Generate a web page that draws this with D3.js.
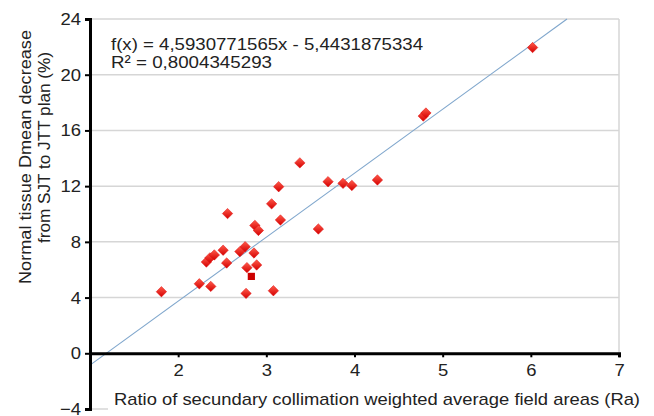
<!DOCTYPE html>
<html>
<head>
<meta charset="utf-8">
<script src="https://cdn.jsdelivr.net/npm/d3@7"></script>
<style>
html,body{margin:0;padding:0;background:#fff;}
svg{display:block;font-family:"Liberation Sans",Arial,sans-serif;}
</style>
</head>
<body>
<svg id="chart" width="654" height="416"></svg>
<script>
// ---- data ----
const ratioRa = [1.81, 2.24, 2.37, 2.32, 2.36, 2.41, 2.51, 2.55, 2.56, 2.70, 2.76, 2.86, 2.78, 2.89, 2.77, 3.08, 3.06, 3.16, 2.87, 2.91, 3.59, 3.14, 3.38, 3.70, 3.87, 3.97, 4.26, 4.78, 4.81, 6.02];
const dmeanDecrease = [4.42, 4.99, 4.80, 6.55, 6.85, 7.06, 7.40, 6.48, 10.03, 7.30, 7.65, 7.20, 6.15, 6.34, 4.30, 4.49, 10.73, 9.57, 9.18, 8.82, 8.92, 11.96, 13.67, 12.32, 12.20, 12.05, 12.44, 17.03, 17.25, 21.95];
const squareRa = [2.83];
const squareDecrease = [5.52];
const fitSlope = 4.5930771565;
const fitIntercept = -5.4431875334;
const xTicks = [2, 3, 4, 5, 6, 7];
const yTicks = [-4, 0, 4, 8, 12, 16, 20, 24];
const eqLabel = "f(x) = 4,5930771565x - 5,4431875334";
const r2Label = "R² = 0,8004345293";
const xTitle = "Ratio of secundary collimation weighted average field areas (Ra)";
const yTitleLines = ["Normal tissue Dmean decrease", "from SJT to JTT plan (%)"];

// ---- layout ----
const svg = d3.select("#chart");
const x = d3.scaleLinear().domain([1, 7]).range([90, 619]);
const y = d3.scaleLinear().domain([-4, 24]).range([409, 19]);
const FS = 17;
const stretch = 1.085;

function widen(sel) {
  sel.each(function() {
    const len = this.getComputedTextLength();
    d3.select(this).attr("textLength", len * stretch).attr("lengthAdjust", "spacingAndGlyphs");
  });
}
function fitTo(sel, w) {
  sel.attr("textLength", w).attr("lengthAdjust", "spacingAndGlyphs");
}

const defs = svg.append("defs");
const grad = defs.append("linearGradient").attr("id", "dg")
  .attr("x1", "0%").attr("y1", "0%").attr("x2", "100%").attr("y2", "100%");
grad.append("stop").attr("offset", "0%").attr("stop-color", "#ff5a4a");
grad.append("stop").attr("offset", "100%").attr("stop-color", "#d40000");

// gridlines
svg.append("g").selectAll("line").data(yTicks.filter(v => v > 0)).join("line")
  .attr("x1", x(1)).attr("x2", x(7))
  .attr("y1", d => y(d)).attr("y2", d => y(d))
  .attr("stroke", "#d6d6d6").attr("stroke-width", 1.5);
svg.append("line").attr("x1", x(1)).attr("x2", x(7)).attr("y1", y(-4)).attr("y2", y(-4))
  .attr("stroke", "#d6d6d6").attr("stroke-width", 1.5);
svg.append("line").attr("x1", x(7)).attr("x2", x(7)).attr("y1", y(24)).attr("y2", y(0))
  .attr("stroke", "#d6d6d6").attr("stroke-width", 1.5);

// trend line
const xEnd = (24 - fitIntercept) / fitSlope;
svg.append("line")
  .attr("x1", x(1)).attr("y1", y(fitSlope * 1 + fitIntercept))
  .attr("x2", x(xEnd)).attr("y2", y(24))
  .attr("stroke", "#7fa6cc").attr("stroke-width", 1.1);

// white box behind x-title
svg.append("rect").attr("x", 108).attr("y", 384).attr("width", 546).attr("height", 32).attr("fill", "#fff");

// axes
const yAxis = d3.axisLeft(y).tickValues(yTicks).tickSize(5).tickPadding(4).tickFormat(d3.format("d"));
const gy = svg.append("g").attr("transform", `translate(${x(1)},0)`).call(yAxis);
gy.select(".domain").attr("stroke", "#000").attr("stroke-width", 3);
gy.selectAll(".tick line").attr("stroke", "#000").attr("stroke-width", 2);
gy.selectAll(".tick text").attr("font-size", FS).attr("fill", "#222").attr("font-family", "Liberation Sans, Arial, sans-serif").call(widen);

const xAxis = d3.axisBottom(x).tickValues(xTicks).tickSize(4).tickPadding(7).tickFormat(d3.format("d"));
const gx = svg.append("g").attr("transform", `translate(0,${y(0)})`).call(xAxis);
gx.select(".domain").attr("stroke", "#000").attr("stroke-width", 3);
gx.selectAll(".tick line").attr("stroke", "#000").attr("stroke-width", 2);
gx.selectAll(".tick text").attr("font-size", FS).attr("fill", "#222").attr("font-family", "Liberation Sans, Arial, sans-serif").call(widen);

// points
const pts = ratioRa.map((v, i) => ({x: v, y: dmeanDecrease[i]}));
svg.append("g").selectAll("path").data(pts).join("path")
  .attr("d", d3.symbol(d3.symbolSquare, 54))
  .attr("transform", d => `translate(${x(d.x)},${y(d.y)}) rotate(45)`)
  .attr("fill", "url(#dg)").attr("stroke", "#e01010").attr("stroke-width", 0.5);
const sq = squareRa.map((v, i) => ({x: v, y: squareDecrease[i]}));
svg.append("g").selectAll("path").data(sq).join("path")
  .attr("d", d3.symbol(d3.symbolSquare, 52))
  .attr("transform", d => `translate(${x(d.x)},${y(d.y)})`)
  .attr("fill", "#cc0000");

// equation text
svg.append("text").attr("x", 111).attr("y", 50).attr("font-size", FS).attr("fill", "#222").text(eqLabel).call(fitTo, 312);
svg.append("text").attr("x", 111).attr("y", 68).attr("font-size", FS).attr("fill", "#222").text(r2Label).call(fitTo, 161);

// x title
svg.append("text").attr("x", 114).attr("y", 405).attr("font-size", FS).attr("fill", "#222").text(xTitle).call(fitTo, 526);

// y title
const yPos = [[31, 157, 254], [50, 147.5, 191]];
yTitleLines.forEach((t, i) => {
  svg.append("text")
    .attr("transform", `translate(${yPos[i][0]},${yPos[i][1]}) rotate(-90)`)
    .attr("text-anchor", "middle").attr("font-size", FS).attr("fill", "#222").text(t)
    .call(fitTo, yPos[i][2]);
});
</script>
</body>
</html>
